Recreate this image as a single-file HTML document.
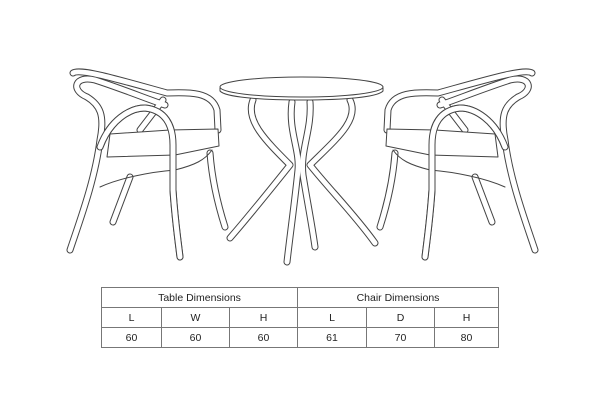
<!DOCTYPE html>
<html><head><style>
html,body{margin:0;padding:0;background:#fff;}
body{width:600px;height:402px;position:relative;overflow:hidden;font-family:"Liberation Sans",sans-serif;}
svg{position:absolute;left:0;top:0;}
table{position:absolute;left:101px;top:287px;border-collapse:collapse;width:398px;font-size:10.5px;color:#222;}
td{border:1px solid #777;text-align:center;height:19px;padding:0;}
</style></head><body>
<svg width="600" height="280" viewBox="0 0 600 280">
<defs>
<g id="chair" fill="none" stroke-linecap="round" stroke-linejoin="round">
 <g stroke="#444" stroke-width="7">
  <path d="M73,73 C80,68 120,80 167,93 C190,92 212,92 217,110 L218,130"/>
  <path d="M87,97 C70,90 75,75 95,80 C120,88 150,100 165,105"/>
  <path d="M87,97 C100,105 105,115 100,140 C95,180 80,220 70,250"/>
  <path d="M100,147 C110,120 130,108 145,108 C165,110 173,125 173,145 L173,190 C175,220 178,240 180,257"/>
  <path d="M130,177 L113,222"/>
  <path d="M210,153 C212,180 218,205 225,227"/>
  <path d="M140,130 L163,100"/>
 </g>
 <g stroke="#fff" stroke-width="5">
  <path d="M73,73 C80,68 120,80 167,93 C190,92 212,92 217,110 L218,130"/>
  <path d="M87,97 C70,90 75,75 95,80 C120,88 150,100 165,105"/>
  <path d="M87,97 C100,105 105,115 100,140 C95,180 80,220 70,250"/>
  <path d="M100,147 C110,120 130,108 145,108 C165,110 173,125 173,145 L173,190 C175,220 178,240 180,257"/>
  <path d="M130,177 L113,222"/>
  <path d="M210,153 C212,180 218,205 225,227"/>
  <path d="M140,130 L163,100"/>
 </g>
 <path d="M110,134 L170,130 L218,129 L219,146 L175,155 L107,157 Z" fill="#fff" stroke="#444" stroke-width="1"/>
 <path d="M100,187 C120,178 150,172 175,170 C195,165 205,160 212,150" stroke="#444" stroke-width="1"/>
 <g stroke="#444" stroke-width="7"><path d="M100,147 C110,120 130,108 145,108 C165,110 173,125 173,145 L173,190 C175,220 178,240 180,257"/></g>
 <g stroke="#fff" stroke-width="5"><path d="M100,147 C110,120 130,108 145,108 C165,110 173,125 173,145 L173,190 C175,220 178,240 180,257"/></g>
</g>
</defs>
<use href="#chair"/>
<use href="#chair" transform="translate(605,0) scale(-1,1)"/>
<g fill="none" stroke-linecap="round" stroke-linejoin="round">
 <g stroke="#444" stroke-width="7">
  <path d="M253,100 C245,120 265,140 290,165 C270,190 250,215 230,238"/>
  <path d="M350,100 C360,120 335,140 310,165 C330,190 355,215 375,243"/>
  <path d="M292,102 C288,130 300,150 298,170 C295,200 290,235 287,262"/>
  <path d="M310,102 C312,130 300,150 303,175 C307,200 312,225 315,247"/>
 </g>
 <g stroke="#fff" stroke-width="5">
  <path d="M253,100 C245,120 265,140 290,165 C270,190 250,215 230,238"/>
  <path d="M350,100 C360,120 335,140 310,165 C330,190 355,215 375,243"/>
  <path d="M292,102 C288,130 300,150 298,170 C295,200 290,235 287,262"/>
  <path d="M310,102 C312,130 300,150 303,175 C307,200 312,225 315,247"/>
 </g>
 <path d="M220,88 L220,91 C225,97 260,100 302,100 C345,100 378,97 383,91 L383,88" fill="#fff" stroke="#444" stroke-width="1"/>
 <ellipse cx="301.5" cy="87" rx="81.5" ry="10" fill="#fff" stroke="#444" stroke-width="1"/>
</g>
</svg>
<table>
<tr><td colspan="3">Table Dimensions</td><td colspan="3">Chair Dimensions</td></tr>
<tr><td style="width:59px">L</td><td style="width:67px">W</td><td style="width:67px">H</td><td style="width:68px">L</td><td style="width:67px">D</td><td>H</td></tr>
<tr><td>60</td><td>60</td><td>60</td><td>61</td><td>70</td><td>80</td></tr>
</table>
</body></html>
